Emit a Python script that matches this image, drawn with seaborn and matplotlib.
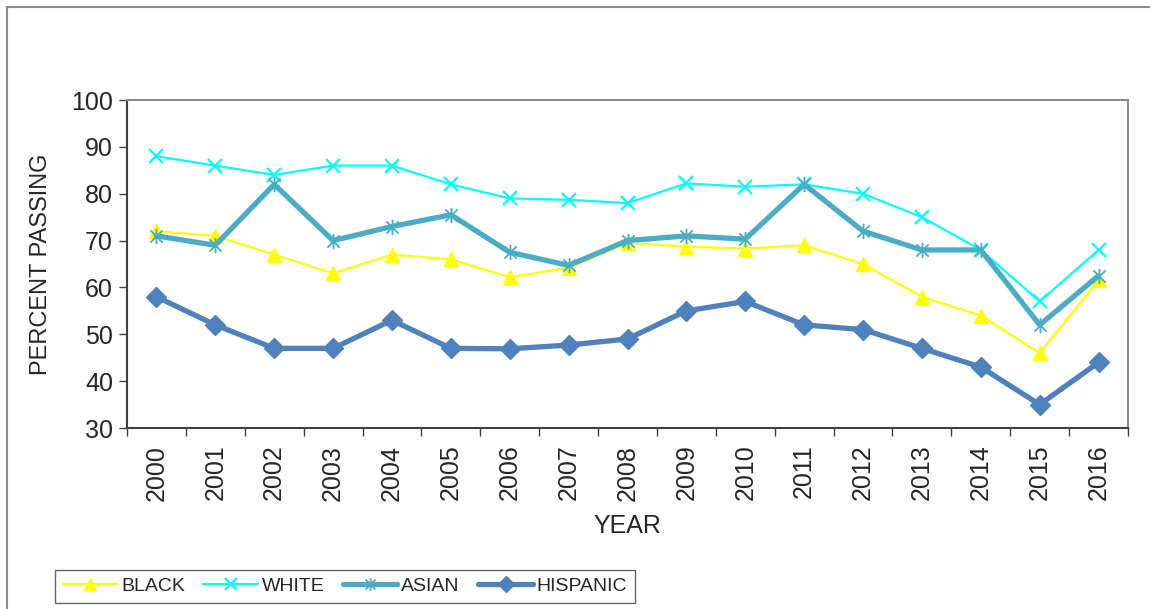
import numpy as np
import pandas as pd
import matplotlib
matplotlib.use("Agg")
import matplotlib.pyplot as plt
from matplotlib.path import Path
from matplotlib.patches import Rectangle
import seaborn as sns

years = [str(y) for y in range(2000, 2017)]
black = [72, 71, 67, 63, 67, 66, 62.2, 64.2, 69.5, 68.7, 68.3, 69, 65, 58, 54, 46, 61.5]
white = [88, 86, 84, 86, 86, 82, 79, 78.7, 78, 82.2, 81.5, 82, 80, 75, 68, 57, 68]
asian = [71, 69, 82, 70, 73, 75.5, 67.5, 64.7, 70, 71, 70.3, 82, 72, 68, 68, 52, 62.5]
hispanic = [58, 52, 47, 47, 53, 47, 46.9, 47.7, 49, 55, 57, 52, 51, 47, 43, 35, 44]
series_names = ["BLACK", "WHITE", "ASIAN", "HISPANIC"]
y_ticks = [30, 40, 50, 60, 70, 80, 90, 100]

sns.set_theme(style="white")
plt.rcParams["font.family"] = ["Liberation Sans", "DejaVu Sans"]

rows = []
for name, vals in zip(series_names, [black, white, asian, hispanic]):
    for i, v in enumerate(vals):
        rows.append({"pos": i, "value": v, "series": name})
df = pd.DataFrame(rows)

# asterisk marker (x with vertical bar)
ast = Path([(-1, -1), (1, 1), (-1, 1), (1, -1), (0, -1.25), (0, 1.25)],
           [Path.MOVETO, Path.LINETO, Path.MOVETO, Path.LINETO, Path.MOVETO, Path.LINETO])

colors = {"BLACK": "#FFFF00", "WHITE": "#00FFFF", "ASIAN": "#4BACC6", "HISPANIC": "#4F81BD"}
markers = {"BLACK": "^", "WHITE": "x", "ASIAN": ast, "HISPANIC": "D"}
lws = {"BLACK": 1.6, "WHITE": 1.6, "ASIAN": 3.8, "HISPANIC": 3.8}
msz = {"BLACK": 10, "WHITE": 10, "ASIAN": 11, "HISPANIC": 10}
mew = {"BLACK": 1, "WHITE": 1.6, "ASIAN": 1.3, "HISPANIC": 1}

W, H = 1150, 609
fig = plt.figure(figsize=(W / 100, H / 100), dpi=100)
ax = fig.add_axes([127 / W, 1 - 428 / H, (1128 - 127) / W, (428 - 100) / H])

for name in series_names:
    sub = df[df["series"] == name]
    sns.lineplot(data=sub, x="pos", y="value", ax=ax, color=colors[name],
                 linewidth=lws[name], marker=markers[name], markersize=msz[name],
                 markeredgewidth=mew[name], markeredgecolor=colors[name],
                 label=name, legend=False, zorder=3)

ax.set_xlim(-0.5, len(years) - 0.5)
ax.set_ylim(30, 100)
ax.set_yticks(y_ticks)
ax.set_yticklabels([str(t) for t in y_ticks], fontsize=18)
ax.set_xticks(np.arange(-0.5, len(years)), labels=[""] * (len(years) + 1))
ax.set_xticks(np.arange(len(years)), labels=years, minor=True)
ax.tick_params(axis="x", which="major", direction="out", length=6, width=1, color="#404040", bottom=True)
ax.tick_params(axis="x", which="minor", length=0, labelsize=18, labelrotation=90, pad=12, bottom=True)
ax.tick_params(axis="y", direction="out", length=6, width=1, color="#404040", left=True, labelsize=18, pad=4)

for s in ["left", "bottom"]:
    ax.spines[s].set_color("#404040")
    ax.spines[s].set_linewidth(1.5)
for s in ["top", "right"]:
    ax.spines[s].set_color("#8C8C8C")
    ax.spines[s].set_linewidth(1.5)
ax.grid(False)

ax.set_xlabel("YEAR", fontsize=18, labelpad=10)
ax.set_ylabel("PERCENT PASSING", fontsize=17, labelpad=14)

handles, labels = ax.get_legend_handles_labels()
leg = fig.legend(handles, labels, loc="lower left", bbox_to_anchor=(55 / W, 1 - 603 / H),
                 borderaxespad=0, ncol=4, frameon=True, fancybox=False, fontsize=14,
                 handlelength=2.8, handletextpad=0.2, columnspacing=0.95, borderpad=0.4,
                 markerscale=0.8)
leg.get_frame().set_edgecolor("#404040")
leg.get_frame().set_linewidth(1)

fig.patches.append(Rectangle((7 / W, -0.1), 1.2, 1 - 7 / H + 0.1, transform=fig.transFigure,
                             fill=False, edgecolor="#8C8C8C", linewidth=1.5))

fig.savefig("out.png", dpi=100)
